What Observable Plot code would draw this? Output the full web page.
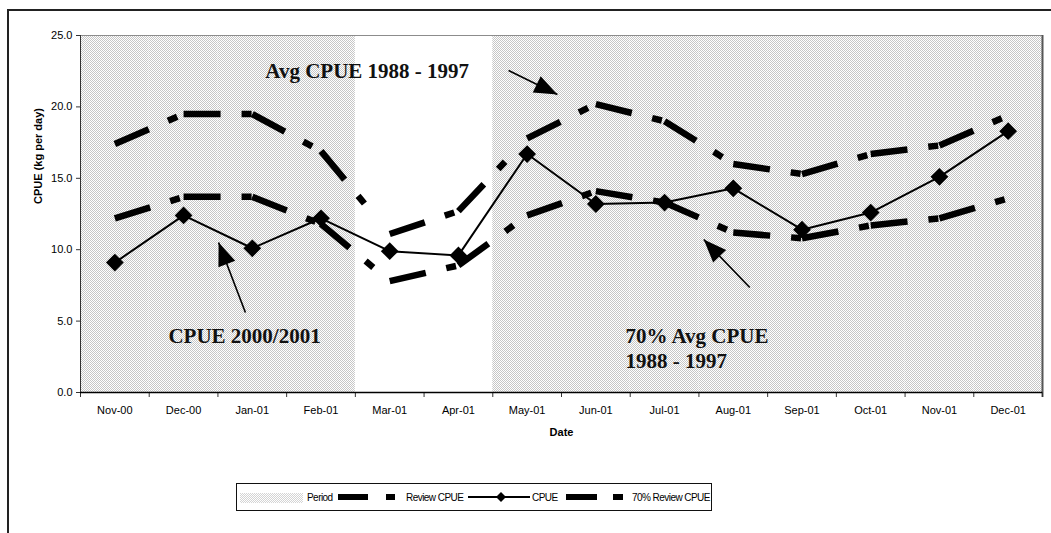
<!DOCTYPE html>
<html>
<head>
<meta charset="utf-8">
<script src="https://cdn.jsdelivr.net/npm/d3@7"></script>
<script src="https://cdn.jsdelivr.net/npm/@observablehq/plot@0.6"></script>
<style>
  html, body { margin: 0; padding: 0; background: #fff; }
  #wrap { position: relative; width: 1051px; height: 533px; overflow: hidden; background: #fff; }
  #frame { position: absolute; left: 7px; top: 9px; width: 1200px; height: 700px;
           border-top: 2px solid #222; border-left: 2px solid #222; }
  #chart { position: absolute; left: 0; top: 0; }
  #legend { position: absolute; left: 236px; top: 483px; }
</style>
</head>
<body>
<div id="wrap">
  <div id="frame"></div>
  <div id="chart"></div>
  <div id="legend"></div>
</div>
<script>
// ---- data ----
const months = ["Nov-00","Dec-00","Jan-01","Feb-01","Mar-01","Apr-01","May-01","Jun-01","Jul-01","Aug-01","Sep-01","Oct-01","Nov-01","Dec-01"];
const period = [25,25,25,25,0,0,25,25,25,25,25,25,25,25];
const reviewCPUE = [17.4,19.5,19.5,16.9,11.1,12.7,17.8,20.2,19.0,16.0,15.3,16.7,17.3,19.4];
const cpue = [9.1,12.4,10.1,12.2,9.9,9.6,16.7,13.2,13.3,14.3,11.4,12.6,15.1,18.3];
const review70 = [12.2,13.7,13.7,11.8,7.8,8.9,12.4,14.1,13.3,11.2,10.8,11.7,12.2,13.6];
const yTicks = [0,5,10,15,20,25];
const annotationTexts = [
  {x: 2.19, y: 21.99, text: "Avg CPUE 1988 - 1997"},
  {x: 0.78, y: 3.50, text: "CPUE 2000/2001"},
  {x: 7.43, y: 1.75, text: "70% Avg CPUE\n1988 - 1997"}
];
const annotationArrows = [
  {x1: 5.73, y1: 22.55, x2: 6.44, y2: 20.87},
  {x1: 1.90, y1: 5.60, x2: 1.51, y2: 10.50},
  {x1: 9.24, y1: 7.35, x2: 8.57, y2: 10.71}
];
const legendItems = ["Period", "Review CPUE", "CPUE", "70% Review CPUE"];

// ---- layout ----
const W = 1051, H = 450, mL = 80, mR = 9, mT = 35, mB = 58;
const xDomain = [-0.5, months.length - 0.5];
const idx = d3.range(months.length);
const bounds = d3.range(months.length + 1).map(i => i - 0.5);
const segs = v => d3.range(v.length - 1).map(i => ({x1: i, y1: v[i], x2: i + 1, y2: v[i + 1]}));

const xs = Plot.scale({x: {type: "linear", domain: xDomain, range: [mL, W - mR]}});
const ys = Plot.scale({y: {type: "linear", domain: [0, 25], range: [H - mB, mT]}});
const arrows = annotationArrows.map(a => ({
  ...a,
  angle: Math.atan2(xs.apply(a.x2) - xs.apply(a.x1), -(ys.apply(a.y2) - ys.apply(a.y1))) * 180 / Math.PI
}));

const arrowHead = {draw(ctx) { ctx.moveTo(0, 0); ctx.lineTo(9, 23); ctx.lineTo(-9, 23); ctx.closePath(); }};

const dash = {stroke: "black", strokeWidth: 6.5, strokeDasharray: "37,21,10,40", strokeLinecap: "butt"};

const chart = Plot.plot({
  width: W, height: H,
  marginLeft: mL, marginRight: mR, marginTop: mT, marginBottom: mB,
  style: {fontFamily: "'Liberation Sans', Arial, sans-serif", fontSize: "11px", color: "black", background: "transparent", overflow: "visible"},
  x: {type: "linear", domain: xDomain, axis: null},
  y: {domain: [0, 25], axis: null},
  marks: [
    Plot.rect(idx, {x1: i => i - 0.5, x2: i => i + 0.5, y1: 0, y2: i => period[i], fill: "url(#stipple)"}),
    Plot.frame({stroke: "#8c8c8c"}),
    Plot.ruleX([xDomain[1]], {stroke: "#555", strokeWidth: 2, insetBottom: -5}),
    Plot.axisY({ticks: yTicks, tickSize: 4, tickPadding: 4, tickFormat: d => d.toFixed(1), label: null, stroke: "#333", fontSize: 11}),
    Plot.axisX({ticks: bounds, tickSize: 5, tickFormat: () => "", label: null, stroke: "#333"}),
    Plot.axisX({ticks: idx, tickSize: 0, tickPadding: 14, tickFormat: i => months[i], label: null, fontSize: 11}),
    Plot.ruleY([0], {stroke: "black", strokeWidth: 1.5}),
    Plot.ruleX([xDomain[0]], {stroke: "#333", strokeWidth: 1}),
    Plot.link(segs(reviewCPUE), {x1: "x1", y1: "y1", x2: "x2", y2: "y2", ...dash}),
    Plot.link(segs(review70), {x1: "x1", y1: "y1", x2: "x2", y2: "y2", ...dash}),
    Plot.line(idx, {x: i => i, y: i => cpue[i], stroke: "black", strokeWidth: 2}),
    Plot.dot(idx, {x: i => i, y: i => cpue[i], symbol: "diamond2", r: 8, fill: "black"}),
    Plot.link(arrows, {x1: "x1", y1: "y1", x2: "x2", y2: "y2", stroke: "black", strokeWidth: 1.6}),
    Plot.dot(arrows, {x: "x2", y: "y2", rotate: "angle", symbol: arrowHead, fill: "black"}),
    Plot.text(annotationTexts, {x: "x", y: "y", text: "text", textAnchor: "start", lineAnchor: "bottom", lineHeight: 1.19,
      fontFamily: "'Liberation Serif', 'Times New Roman', serif", fontWeight: "bold", fontSize: 21, fill: "#111"}),
    Plot.text(["CPUE (kg per day)"], {text: d => d, frameAnchor: "left", dx: -42, dy: -10, rotate: -90, fontWeight: "bold", fontSize: 11}),
    Plot.text(["Date"], {text: d => d, frameAnchor: "bottom", dy: 43, fontWeight: "bold", fontSize: 11})
  ]
});

d3.select(chart).insert("defs", ":first-child").html(
  '<pattern id="stipple" width="2" height="2" patternUnits="userSpaceOnUse">' +
  '<rect width="2" height="2" fill="#ffffff"/><rect width="1" height="1" fill="#c6c6c6"/><rect x="1" y="1" width="1" height="1" fill="#c6c6c6"/></pattern>');
document.getElementById("chart").appendChild(chart);

// ---- legend ----
const lg = d3.select("#legend").append("svg").attr("width", 476).attr("height", 28)
  .style("font-family", "'Liberation Sans', Arial, sans-serif").style("font-size", "10px").style("letter-spacing", "-0.55px");
lg.append("defs").html(
  '<pattern id="stipple2" width="2" height="2" patternUnits="userSpaceOnUse">' +
  '<rect width="2" height="2" fill="#ffffff"/><rect width="1" height="1" fill="#d4d4d4"/><rect x="1" y="1" width="1" height="1" fill="#d4d4d4"/></pattern>');
lg.append("rect").attr("x", 0.5).attr("y", 0.5).attr("width", 475).attr("height", 27).attr("fill", "white").attr("stroke", "#111");
lg.append("rect").attr("x", 4).attr("y", 10).attr("width", 63).attr("height", 10).attr("fill", "url(#stipple2)");
const ltext = (x, t) => lg.append("text").attr("x", x).attr("y", 18).text(t);
ltext(71, legendItems[0]);
lg.append("rect").attr("x", 102).attr("y", 11).attr("width", 30).attr("height", 6).attr("fill", "black");
lg.append("rect").attr("x", 150).attr("y", 11).attr("width", 9).attr("height", 6).attr("fill", "black");
ltext(170, legendItems[1]);
lg.append("line").attr("x1", 232).attr("x2", 294).attr("y1", 14).attr("y2", 14).attr("stroke", "black").attr("stroke-width", 2);
lg.append("path").attr("d", "M265,9L270,14L265,19L260,14Z").attr("fill", "black");
ltext(296, legendItems[2]);
lg.append("rect").attr("x", 330).attr("y", 11).attr("width", 31).attr("height", 6).attr("fill", "black");
lg.append("rect").attr("x", 377).attr("y", 11).attr("width", 10).attr("height", 6).attr("fill", "black");
ltext(396, legendItems[3]);
</script>
</body>
</html>
